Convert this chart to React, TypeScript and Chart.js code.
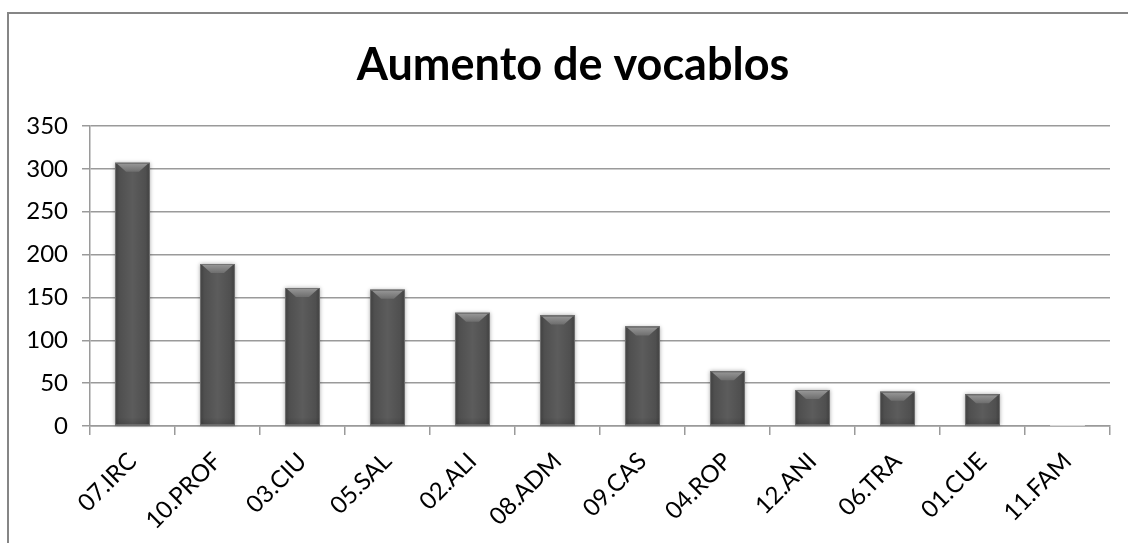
import React, { useEffect, useRef } from "react";
import { Chart, registerables } from "chart.js";

Chart.register(...registerables);

const categories = ["07.IRC", "10.PROF", "03.CIU", "05.SAL", "02.ALI", "08.ADM", "09.CAS", "04.ROP", "12.ANI", "06.TRA", "01.CUE", "11.FAM"];
const values = [307, 189, 161, 159, 132, 129, 116, 64, 42, 40, 37, 0];
const yTicks = [0, 50, 100, 150, 200, 250, 300, 350];
const chartTitle = "Aumento de vocablos";

const FONT = "Lato, 'Open Sans', sans-serif";

const titlePlugin = {
  id: "customTitle",
  afterDraw(chart: any) {
    const ctx = chart.ctx;
    ctx.save();
    ctx.font = `bold 45px ${FONT}`;
    ctx.fillStyle = "#000";
    ctx.textAlign = "center";
    ctx.textBaseline = "alphabetic";
    ctx.fillText(chartTitle, 573, 80);
    ctx.restore();
  },
};

const barStylePlugin = {
  id: "barStyle",
  afterDatasetsDraw(chart: any) {
    const ctx = chart.ctx;
    const meta = chart.getDatasetMeta(0);
    meta.data.forEach((el: any) => {
      const { x, y, base, width } = el.getProps(["x", "y", "base", "width"], true);
      const left = x - width / 2;
      const right = x + width / 2;
      const top = Math.min(y, base);
      const h = Math.abs(base - y);
      ctx.save();
      if (h < 1) {
        ctx.strokeStyle = "#d8d8d8";
        ctx.lineWidth = 1;
        ctx.beginPath();
        ctx.moveTo(left, base - 0.5);
        ctx.lineTo(right, base - 0.5);
        ctx.stroke();
        ctx.restore();
        return;
      }
      ctx.shadowColor = "rgba(0,0,0,0.35)";
      ctx.shadowBlur = 4;
      const g = ctx.createLinearGradient(left, 0, right, 0);
      g.addColorStop(0, "#3e3e3e");
      g.addColorStop(0.12, "#4f4f4f");
      g.addColorStop(0.5, "#5c5c5c");
      g.addColorStop(0.88, "#4f4f4f");
      g.addColorStop(1, "#3e3e3e");
      ctx.fillStyle = g;
      ctx.fillRect(left, top, width, h);
      ctx.shadowBlur = 0;
      ctx.shadowColor = "transparent";
      const gb = ctx.createLinearGradient(0, base - 8, 0, base);
      gb.addColorStop(0, "rgba(0,0,0,0)");
      gb.addColorStop(1, "rgba(0,0,0,0.15)");
      ctx.fillStyle = gb;
      ctx.fillRect(left, base - 8, width, 8);
      const bev = Math.min(9, h / 2);
      const gt = ctx.createLinearGradient(0, top, 0, top + bev);
      gt.addColorStop(0, "#9a9a9a");
      gt.addColorStop(1, "#6e6e6e");
      ctx.fillStyle = gt;
      ctx.beginPath();
      ctx.moveTo(left + 2, top + 1);
      ctx.lineTo(right - 2, top + 1);
      ctx.lineTo(right - 2 - bev, top + bev);
      ctx.lineTo(left + 2 + bev, top + bev);
      ctx.closePath();
      ctx.fill();
      ctx.strokeStyle = "rgba(120,120,120,0.9)";
      ctx.lineWidth = 1;
      ctx.strokeRect(left + 0.5, top + 0.5, width - 1, h - 1);
      ctx.restore();
    });
  },
};

export default function App() {
  const ref = useRef<HTMLCanvasElement | null>(null);

  useEffect(() => {
    if (!ref.current) return;
    const chart = new Chart(ref.current, {
      type: "bar",
      data: {
        labels: categories,
        datasets: [
          {
            data: values,
            backgroundColor: "#555555",
            borderWidth: 0,
            categoryPercentage: 1,
            barPercentage: 0.41,
          },
        ],
      },
      options: {
        animation: false,
        responsive: false,
        maintainAspectRatio: false,
        layout: { padding: { left: 0, right: 18, top: 126, bottom: 0 } },
        plugins: {
          legend: { display: false },
          title: { display: false },
          tooltip: { enabled: false },
        },
        scales: {
          x: {
            afterFit(scale: any) {
              scale.height = 117;
            },
            grid: {
              offset: true,
              drawOnChartArea: false,
              drawTicks: true,
              tickLength: 9,
              color: "#9a9a9a",
              lineWidth: 1.5,
            },
            border: { color: "#9a9a9a", width: 1.5 },
            ticks: {
              autoSkip: false,
              maxRotation: 45,
              minRotation: 45,
              padding: 12,
              color: "#000",
              font: { family: FONT, size: 24 },
            },
          },
          y: {
            min: 0,
            max: 350,
            afterFit(scale: any) {
              scale.width = 90;
            },
            afterBuildTicks(scale: any) {
              scale.ticks = yTicks.map((v) => ({ value: v }));
            },
            grid: {
              color: "#9a9a9a",
              lineWidth: 1.5,
              tickLength: 8,
            },
            border: { color: "#9a9a9a", width: 1.5 },
            ticks: {
              padding: 14,
              color: "#000",
              font: { family: FONT, size: 24 },
            },
          },
        },
      },
      plugins: [barStylePlugin, titlePlugin],
    });
    return () => chart.destroy();
  }, []);

  return (
    <div style={{ position: "fixed", left: 0, top: 0, width: 1128, height: 543, background: "#fff", overflow: "hidden" }}>
      <div
        style={{
          position: "absolute",
          left: 7,
          top: 12,
          width: 1121,
          height: 531,
          borderLeft: "2px solid #868686",
          borderTop: "2px solid #868686",
          boxSizing: "border-box",
        }}
      />
      <canvas ref={ref} width={1128} height={543} style={{ position: "absolute", left: 0, top: 0, width: 1128, height: 543 }} />
    </div>
  );
}
